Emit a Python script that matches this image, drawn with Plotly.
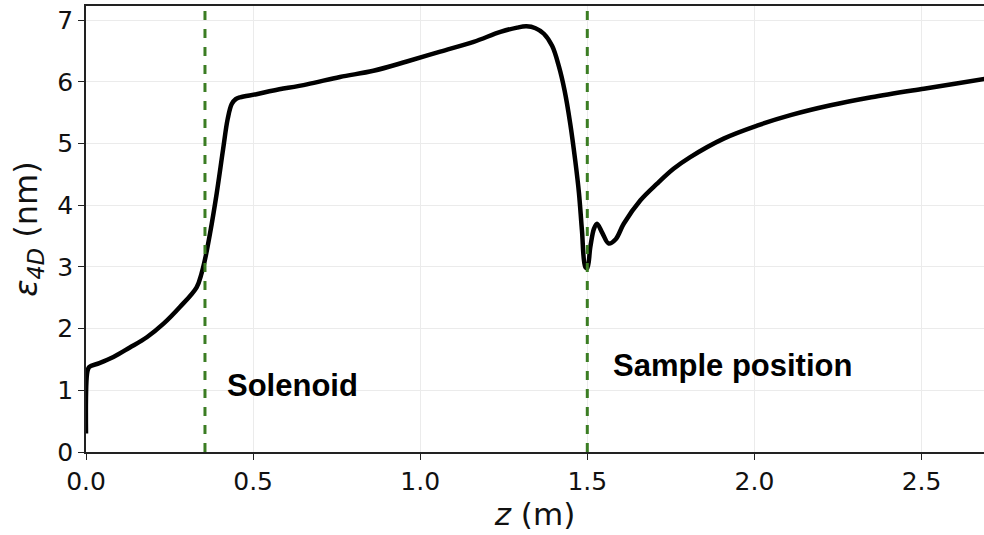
import plotly.graph_objects as go

z = [0.0, 0.004, 0.010, 0.04, 0.082, 0.13, 0.182, 0.232, 0.281, 0.331, 0.346, 0.356, 0.371,
     0.391, 0.41, 0.424, 0.436, 0.448, 0.461, 0.51, 0.561, 0.661, 0.760, 0.860, 0.960, 1.06,
     1.16, 1.24, 1.29, 1.318, 1.345, 1.37, 1.395, 1.415, 1.432, 1.449, 1.464, 1.475, 1.484,
     1.494, 1.50, 1.509, 1.52, 1.529, 1.545, 1.564, 1.585, 1.609, 1.659, 1.709, 1.758, 1.808,
     1.908, 2.008, 2.108, 2.228, 2.35, 2.507, 2.60, 2.69]
eps = [0.3, 1.30, 1.38, 1.44, 1.54, 1.69, 1.86, 2.08, 2.35, 2.67, 2.90, 3.12, 3.54,
       4.19, 4.90, 5.40, 5.64, 5.72, 5.75, 5.80, 5.86, 5.96, 6.08, 6.18, 6.33, 6.49,
       6.65, 6.81, 6.88, 6.90, 6.87, 6.78, 6.58, 6.25, 5.86, 5.32, 4.72, 4.2, 3.59,
       3.0, 2.98, 3.32, 3.62, 3.70, 3.55, 3.38, 3.45, 3.70, 4.08, 4.35, 4.59, 4.78,
       5.08, 5.29, 5.46, 5.62, 5.75, 5.89, 5.97, 6.05]

markers_z = [0.356, 1.5]
marker_labels = ["Solenoid", "Sample position"]
label_pos = [(0.416, 1.08), (1.572, 1.40)]

x_ticks = [0.0, 0.5, 1.0, 1.5, 2.0, 2.5]
y_ticks = [0, 1, 2, 3, 4, 5, 6, 7]

fig = go.Figure()
fig.add_trace(go.Scatter(x=z, y=eps, mode="lines",
                         line=dict(color="black", width=4.5, shape="spline", smoothing=1.0),
                         showlegend=False))
for mz in markers_z:
    fig.add_vline(x=mz, line=dict(color="#3b7d23", width=3, dash="dash"))
for lab, (lx, ly) in zip(marker_labels, label_pos):
    fig.add_annotation(x=lx, y=ly, text="<b>" + lab + "</b>", showarrow=False,
                       xanchor="left", yanchor="middle",
                       font=dict(family="Liberation Sans, Arial", size=31, color="black"))

axis_common = dict(showgrid=True, gridcolor="#ebebeb", gridwidth=1, zeroline=False,
                   showline=True, linecolor="#222", linewidth=1.5,
                   ticks="outside", ticklen=6, tickcolor="#222", tickwidth=1.2,
                   tickfont=dict(family="DejaVu Sans", size=25, color="#111"))
fig.update_xaxes(range=[0, 2.687], tickvals=x_ticks, ticktext=[f"{v:.1f}" for v in x_ticks],
                 mirror=True,
                 title=dict(text="<i>z</i> (m)", font=dict(family="DejaVu Sans", size=31, color="#111"),
                            standoff=4),
                 **axis_common)
fig.update_yaxes(range=[0, 7.23], tickvals=y_ticks,
                 title=dict(text="<i>ε</i><sub><i>4D</i></sub> (nm)",
                            font=dict(family="DejaVu Sans", size=32, color="#111"), standoff=10),
                 **axis_common)
fig.update_layout(width=984, height=535, margin=dict(l=86, r=0, t=6, b=83),
                  plot_bgcolor="white", paper_bgcolor="white")
fig.write_html("out.html")
